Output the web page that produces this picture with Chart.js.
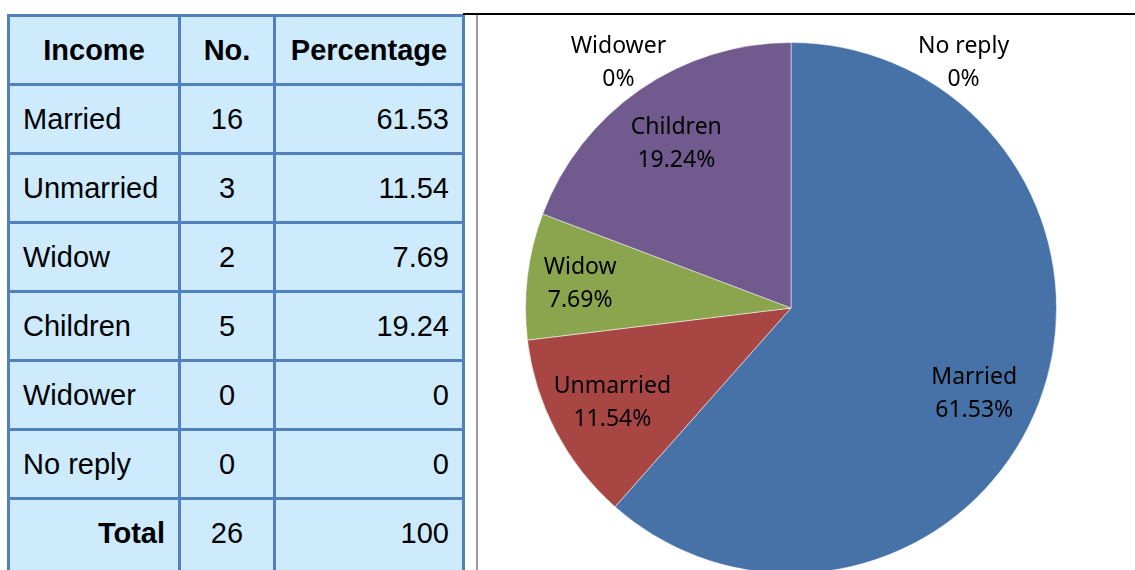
<!DOCTYPE html>
<html>
<head>
<meta charset="utf-8">
<script src="https://cdn.jsdelivr.net/npm/chart.js@4"></script>
<style>
  html, body { margin: 0; padding: 0; width: 1135px; height: 570px; overflow: hidden; background: #fff; }
  #tbl {
    position: absolute; left: 7px; top: 14px;
    border-collapse: collapse; table-layout: fixed; width: 455px;
    font-family: "Liberation Sans", Arial, sans-serif;
    font-size: 29px; color: #000;
    background: #cdebfd;
  }
  #tbl td, #tbl th { border: 3px solid #5081bd; padding: 0 13px; white-space: nowrap; }
  #tbl th { height: 66px; font-weight: bold; text-align: center; padding: 0; }
  #tbl td { height: 66px; }
  #tbl .c1 { text-align: left; }
  #tbl .c2 { text-align: center; padding: 0; }
  #tbl .c3 { text-align: right; }
  #tbl .total { font-weight: bold; text-align: right; }
  #tbl tr.last td { height: 90px; line-height: 66px; vertical-align: top; }
  #topline { position: absolute; left: 463px; top: 13px; width: 672px; height: 2px; background: #000; }
  #vline { position: absolute; left: 476px; top: 15px; width: 2px; height: 560px; background: #9a9a9a; }
  #wrap { position: absolute; left: 478px; top: 16px; width: 657px; height: 584px; }
</style>
</head>
<body>
<table id="tbl">
  <colgroup><col style="width:171px"><col style="width:95px"><col style="width:189px"></colgroup>
  <thead>
    <tr><th>Income</th><th>No.</th><th>Percentage</th></tr>
  </thead>
  <tbody id="tbody"></tbody>
</table>
<div id="topline"></div>
<div id="vline"></div>
<div id="wrap"><canvas id="pie"></canvas></div>
<script>
// ==================================================
// DATA
// ==================================================
const categories = ["Married", "Unmarried", "Widow", "Children", "Widower", "No reply"];
const counts = [16, 3, 2, 5, 0, 0];
const percents = [61.53, 11.54, 7.69, 19.24, 0, 0];
const totalLabel = "Total";
const totalCount = 26;
const totalPercent = 100;
const sliceColors = ["#4672a8", "#a84644", "#8aa54e", "#715a8e", "#4bacc6", "#f79646"];

// ==================================================
// TABLE
// ==================================================
const tbody = document.querySelector("#tbody");
categories.forEach((cat, i) => {
  const tr = document.createElement("tr");
  tr.innerHTML = `<td class="c1">${cat}</td><td class="c2">${counts[i]}</td><td class="c3">${percents[i]}</td>`;
  tbody.appendChild(tr);
});
const totalRow = document.createElement("tr");
totalRow.className = "last";
totalRow.innerHTML = `<td class="c1 total">${totalLabel}</td><td class="c2">${totalCount}</td><td class="c3">${totalPercent}</td>`;
tbody.appendChild(totalRow);

// ==================================================
// PIE LABELS
// ==================================================
const labelPlugin = {
  id: "sliceLabels",
  afterDatasetsDraw(chart) {
    const ctx = chart.ctx;
    const arcs = chart.getDatasetMeta(0).data;
    ctx.save();
    ctx.font = '23px "Noto Sans", sans-serif';
    ctx.fillStyle = "#000";
    ctx.textAlign = "center";
    ctx.textBaseline = "middle";
    let zeroIdx = 0;
    arcs.forEach((arc, i) => {
      const { x, y, startAngle, endAngle, outerRadius } = arc.getProps(
        ["x", "y", "startAngle", "endAngle", "outerRadius"], true);
      let lx, ly;
      if (percents[i] === 0) {
        // empty slices sit just above the pie, left then right
        const side = zeroIdx % 2 === 0 ? -1 : 1;
        lx = x + side * outerRadius * 0.65;
        ly = y - outerRadius * 0.93;
        zeroIdx++;
      } else {
        let mid = (startAngle + endAngle) / 2;
        // big slice label sits a bit lower, like the original
        if (endAngle - startAngle > Math.PI) mid += 0.07;
        const f = endAngle - startAngle < 0.6 ? 0.8 : 0.76;
        lx = x + Math.cos(mid) * outerRadius * f;
        ly = y + Math.sin(mid) * outerRadius * f;
      }
      ctx.fillText(categories[i], lx, ly - 15);
      ctx.fillText(percents[i] + "%", lx, ly + 18);
    });
    ctx.restore();
  },
};

// ==================================================
// CHART JS CANVAS
// ==================================================
const ctx = document.getElementById("pie").getContext("2d");
new Chart(ctx, {
  type: "pie",
  data: {
    labels: categories,
    datasets: [
      {
        data: percents,
        backgroundColor: sliceColors,
        borderColor: "rgba(255, 255, 255, 0.5)",
        borderWidth: 1,
      },
    ],
  },
  options: {
    responsive: true,
    maintainAspectRatio: false,
    animation: false,
    layout: { padding: { left: 47, right: 78, top: 26, bottom: 26 } },
    plugins: {
      legend: { display: false },
      tooltip: { enabled: false },
    },
  },
  plugins: [labelPlugin],
});
</script>
</body>
</html>
